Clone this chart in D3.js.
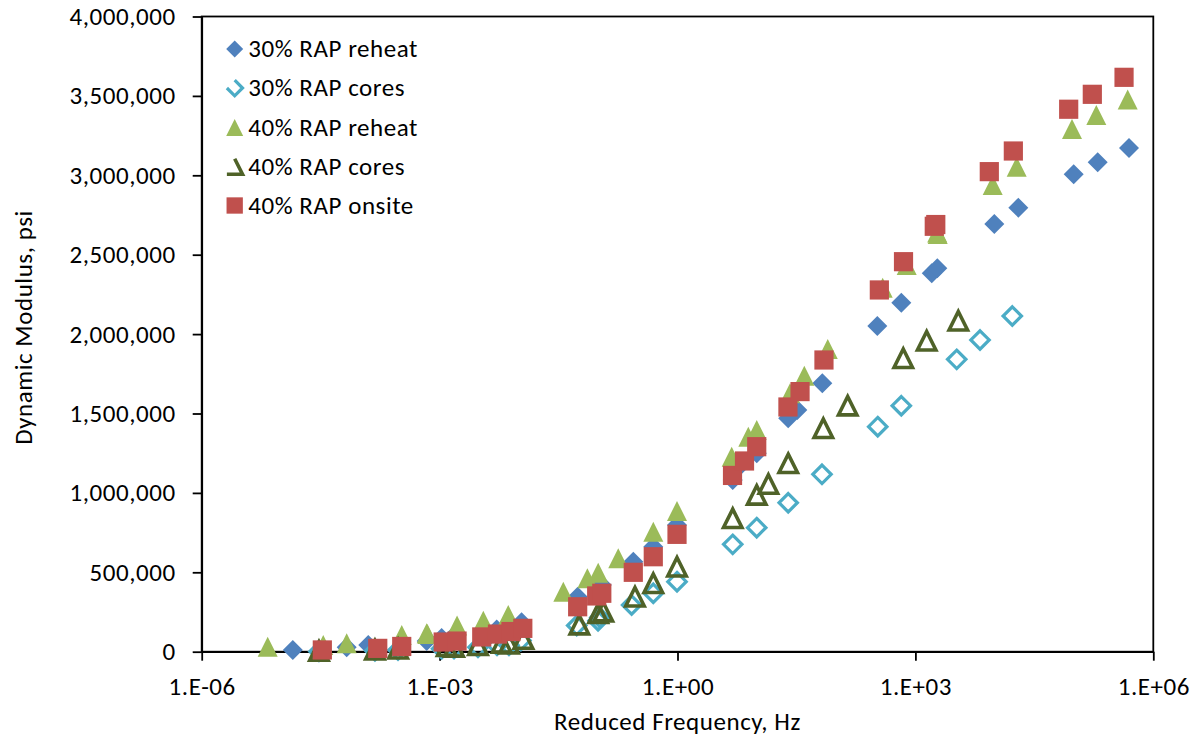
<!DOCTYPE html>
<html><head><meta charset="utf-8">
<script src="https://cdn.jsdelivr.net/npm/d3@7/dist/d3.min.js"></script>
<style>
body{margin:0;background:#fff}
text{font-family:Carlito, Lato, "Open Sans", sans-serif;fill:#000;letter-spacing:0.55px}
</style>
</head><body>
<svg id="chart" width="1198" height="740"></svg>
<script>
// ---------- DATA ----------
const seriesNames = ["30% RAP reheat","30% RAP cores","40% RAP reheat","40% RAP cores","40% RAP onsite"];

const reheat30Freq = [1.41e-5,6.73e-5,1.26e-4,6.87e-4,1.41e-3,3.52e-3,
  1.06e-3,5.25e-3,1.08e-2,5.51e-2,0.111,0.277,
  0.0996,0.495,0.986,4.97,9.98,24.9,
  6.41,32.4,67.0,331,664,1607,
  1888,9890,19860,99100,199000,494000];
const reheat30Mod = [11000,28000,42000,68000,85000,108000,
  86000,140000,185000,346000,420000,567000,
  400000,661000,798000,1081000,1250000,1470000,
  1180000,1522000,1690000,2051000,2198000,2383000,
  2414000,2693000,2796000,3006000,3082000,3172000];

const cores30Freq = [3.01e-5,1.53e-4,2.99e-4,1.52e-3,3.05e-3,7.50e-3,
  1.06e-3,5.30e-3,1.06e-2,5.36e-2,0.105,0.264,
  0.0996,0.495,0.986,4.97,9.98,24.9,
  66.4,335,664,3319,6531,16670];
const cores30Mod = [2000,6000,10000,20000,28000,40000,
  18000,40000,70000,165000,215000,294000,
  195000,368000,441000,676000,781000,938000,
  1117000,1417000,1549000,1841000,1963000,2114000];

const reheat40Freq = [6.79e-6,3.41e-5,6.73e-5,3.33e-4,6.87e-4,1.66e-3,
  7.03e-4,3.56e-3,7.34e-3,3.63e-2,7.30e-2,0.179,
  0.100,0.495,0.986,4.82,9.98,26.2,
  7.82,39.7,78.4,387,776,1910,
  1884,9440,18930,94400,191000,475000];
const reheat40Mod = [31000,42000,53000,105000,116000,165000,
  112000,195000,231000,378000,462000,588000,
  497000,756000,886000,1228000,1396000,1627000,
  1354000,1738000,1906000,2292000,2435000,2630000,
  2640000,2939000,3054000,3291000,3379000,3478000];

const cores40Freq = [3.01e-5,1.53e-4,3.0e-4,1.52e-3,3.05e-3,7.5e-3,
  1.23e-3,6.07e-3,1.14e-2,5.78e-2,0.116,0.291,
  0.100,0.495,0.986,4.97,9.98,24.9,
  14.0,69.0,140,703,1387,3475];
const cores40Mod = [5000,12000,18000,30000,40000,50000,
  35000,55000,80000,170000,252000,346000,
  242000,431000,535000,840000,987000,1186000,
  1056000,1407000,1549000,1848000,1958000,2084000];

const onsite40Freq = [3.32e-5,1.66e-4,3.33e-4,1.11e-3,1.66e-3,3.40e-3,
  5.37e-3,7.94e-3,1.12e-2,5.51e-2,9.57e-2,0.111,
  0.277,0.495,0.986,4.94,7.00,9.98,
  24.7,35.1,70.3,351,708,1730,
  1807,8550,17180,85700,170200,427600];
const onsite40Mod = [11000,21000,33000,61000,67000,93000,
  111000,127000,147000,283000,351000,368000,
  500000,598000,739000,1110000,1201000,1291000,
  1541000,1638000,1837000,2278000,2456000,2679000,
  2690000,3023000,3153000,3416000,3510000,3617000];

const xTickValues = [1e-6,1e-3,1,1e3,1e6];
const xTickLabels = ["1.E-06","1.E-03","1.E+00","1.E+03","1.E+06"];
const yTickValues = [0,500000,1000000,1500000,2000000,2500000,3000000,3500000,4000000];
const xTitle = "Reduced Frequency, Hz";
const yTitle = "Dynamic Modulus, psi";

// ---------- CHART ----------
const svg = d3.select("#chart");
const L = 201.7, R = 1153.3, T = 16.5, B = 651.7;
const FS = 25;
const FF = "Carlito, Lato, 'Open Sans', sans-serif";
const x = d3.scaleLog().domain([1e-6, 1e6]).range([L, R]);
const y = d3.scaleLinear().domain([0, 4000000]).range([B, T]);

svg.append("rect").attr("width",1198).attr("height",740).attr("fill","#fff");

// plot border
svg.append("rect").attr("x",L).attr("y",T).attr("width",R-L).attr("height",B-T)
  .attr("fill","none").attr("stroke","#000").attr("stroke-width",1.8);

// axes
const yAxis = d3.axisLeft(y).tickValues(yTickValues).tickSize(9).tickSizeOuter(0)
  .tickPadding(17).tickFormat(d3.format(","));
const gy = svg.append("g").attr("transform",`translate(${L},0)`).call(yAxis);
const xAxis = d3.axisBottom(x).tickValues(xTickValues).tickSize(9).tickSizeOuter(0)
  .tickPadding(16.5).tickFormat(d=>xTickLabels[xTickValues.indexOf(d)]);
const gx = svg.append("g").attr("transform",`translate(0,${B})`).call(xAxis);
[gx,gy].forEach(g=>{
  g.selectAll("path.domain").attr("stroke","#000").attr("stroke-width",1.8);
  g.selectAll(".tick line").attr("stroke","#000").attr("stroke-width",1.8);
  g.selectAll(".tick text").style("font-size",FS+"px").attr("fill","#000")
   .style("font-family",FF).style("letter-spacing","0.55px");
});

// titles
svg.append("text").attr("x",677.5).attr("y",730).attr("text-anchor","middle")
  .style("font-size",FS+"px").text(xTitle);
svg.append("text").attr("transform","translate(31.5,327.5) rotate(-90)").attr("text-anchor","middle")
  .style("font-size",FS+"px").text(yTitle);

// marker shapes
const shapes = {
  diamond: s => `M0,${-s}L${s},0L0,${s}L${-s},0Z`,
  square: s => `M${-s},${-s}L${s},${-s}L${s},${s}L${-s},${s}Z`,
  triangle: s => `M0,${-s}L${s},${s}L${-s},${s}Z`
};
// legend versions (open markers lose first segment, as in the original)
const legendOpen = {
  diamond: s => `M0,${-s}L${s},0L0,${s}L${-s},0`,
  triangle: s => `M0,${-s}L${s},${s}L${-s},${s}`
};

const series = [
  {name:seriesNames[0], xs:reheat30Freq, ys:reheat30Mod, shape:"diamond", size:10, fill:"#4F81BD", stroke:null},
  {name:seriesNames[1], xs:cores30Freq, ys:cores30Mod, shape:"diamond", size:9.2, fill:"none", stroke:"#4BACC6", sw:3.2},
  {name:seriesNames[2], xs:reheat40Freq, ys:reheat40Mod, shape:"triangle", size:10, fill:"#9BBB59", stroke:null},
  {name:seriesNames[3], xs:cores40Freq, ys:cores40Mod, shape:"triangle", size:9.2, fill:"none", stroke:"#4F6228", sw:3.6},
  {name:seriesNames[4], xs:onsite40Freq, ys:onsite40Mod, shape:"square", size:9.6, fill:"#C0504D", stroke:null}
];

series.forEach(s=>{
  const pts = s.xs.map((f,i)=>({f, m:s.ys[i]}));
  svg.append("g").selectAll("path").data(pts).join("path")
    .attr("transform",d=>`translate(${x(d.f)},${y(d.m)})`)
    .attr("d",shapes[s.shape](s.size))
    .attr("fill",s.fill)
    .attr("stroke",s.stroke||"none")
    .attr("stroke-width",s.sw||0)
    .attr("stroke-linejoin","miter");
});

// legend
const legY = [49,88,127.5,166.5,205.5];
series.forEach((s,i)=>{
  const g = svg.append("g").attr("transform",`translate(234.7,${legY[i]})`);
  const sz = s.size*0.85;
  if (s.fill === "none") {
    g.append("path").attr("d",legendOpen[s.shape](sz)).attr("fill","none")
      .attr("stroke",s.stroke).attr("stroke-width",s.sw);
  } else {
    g.append("path").attr("d",shapes[s.shape](sz)).attr("fill",s.fill);
  }
  svg.append("text").attr("x",248.3).attr("y",legY[i]+8).style("font-size",FS+"px").text(s.name);
});
</script>
</body></html>
